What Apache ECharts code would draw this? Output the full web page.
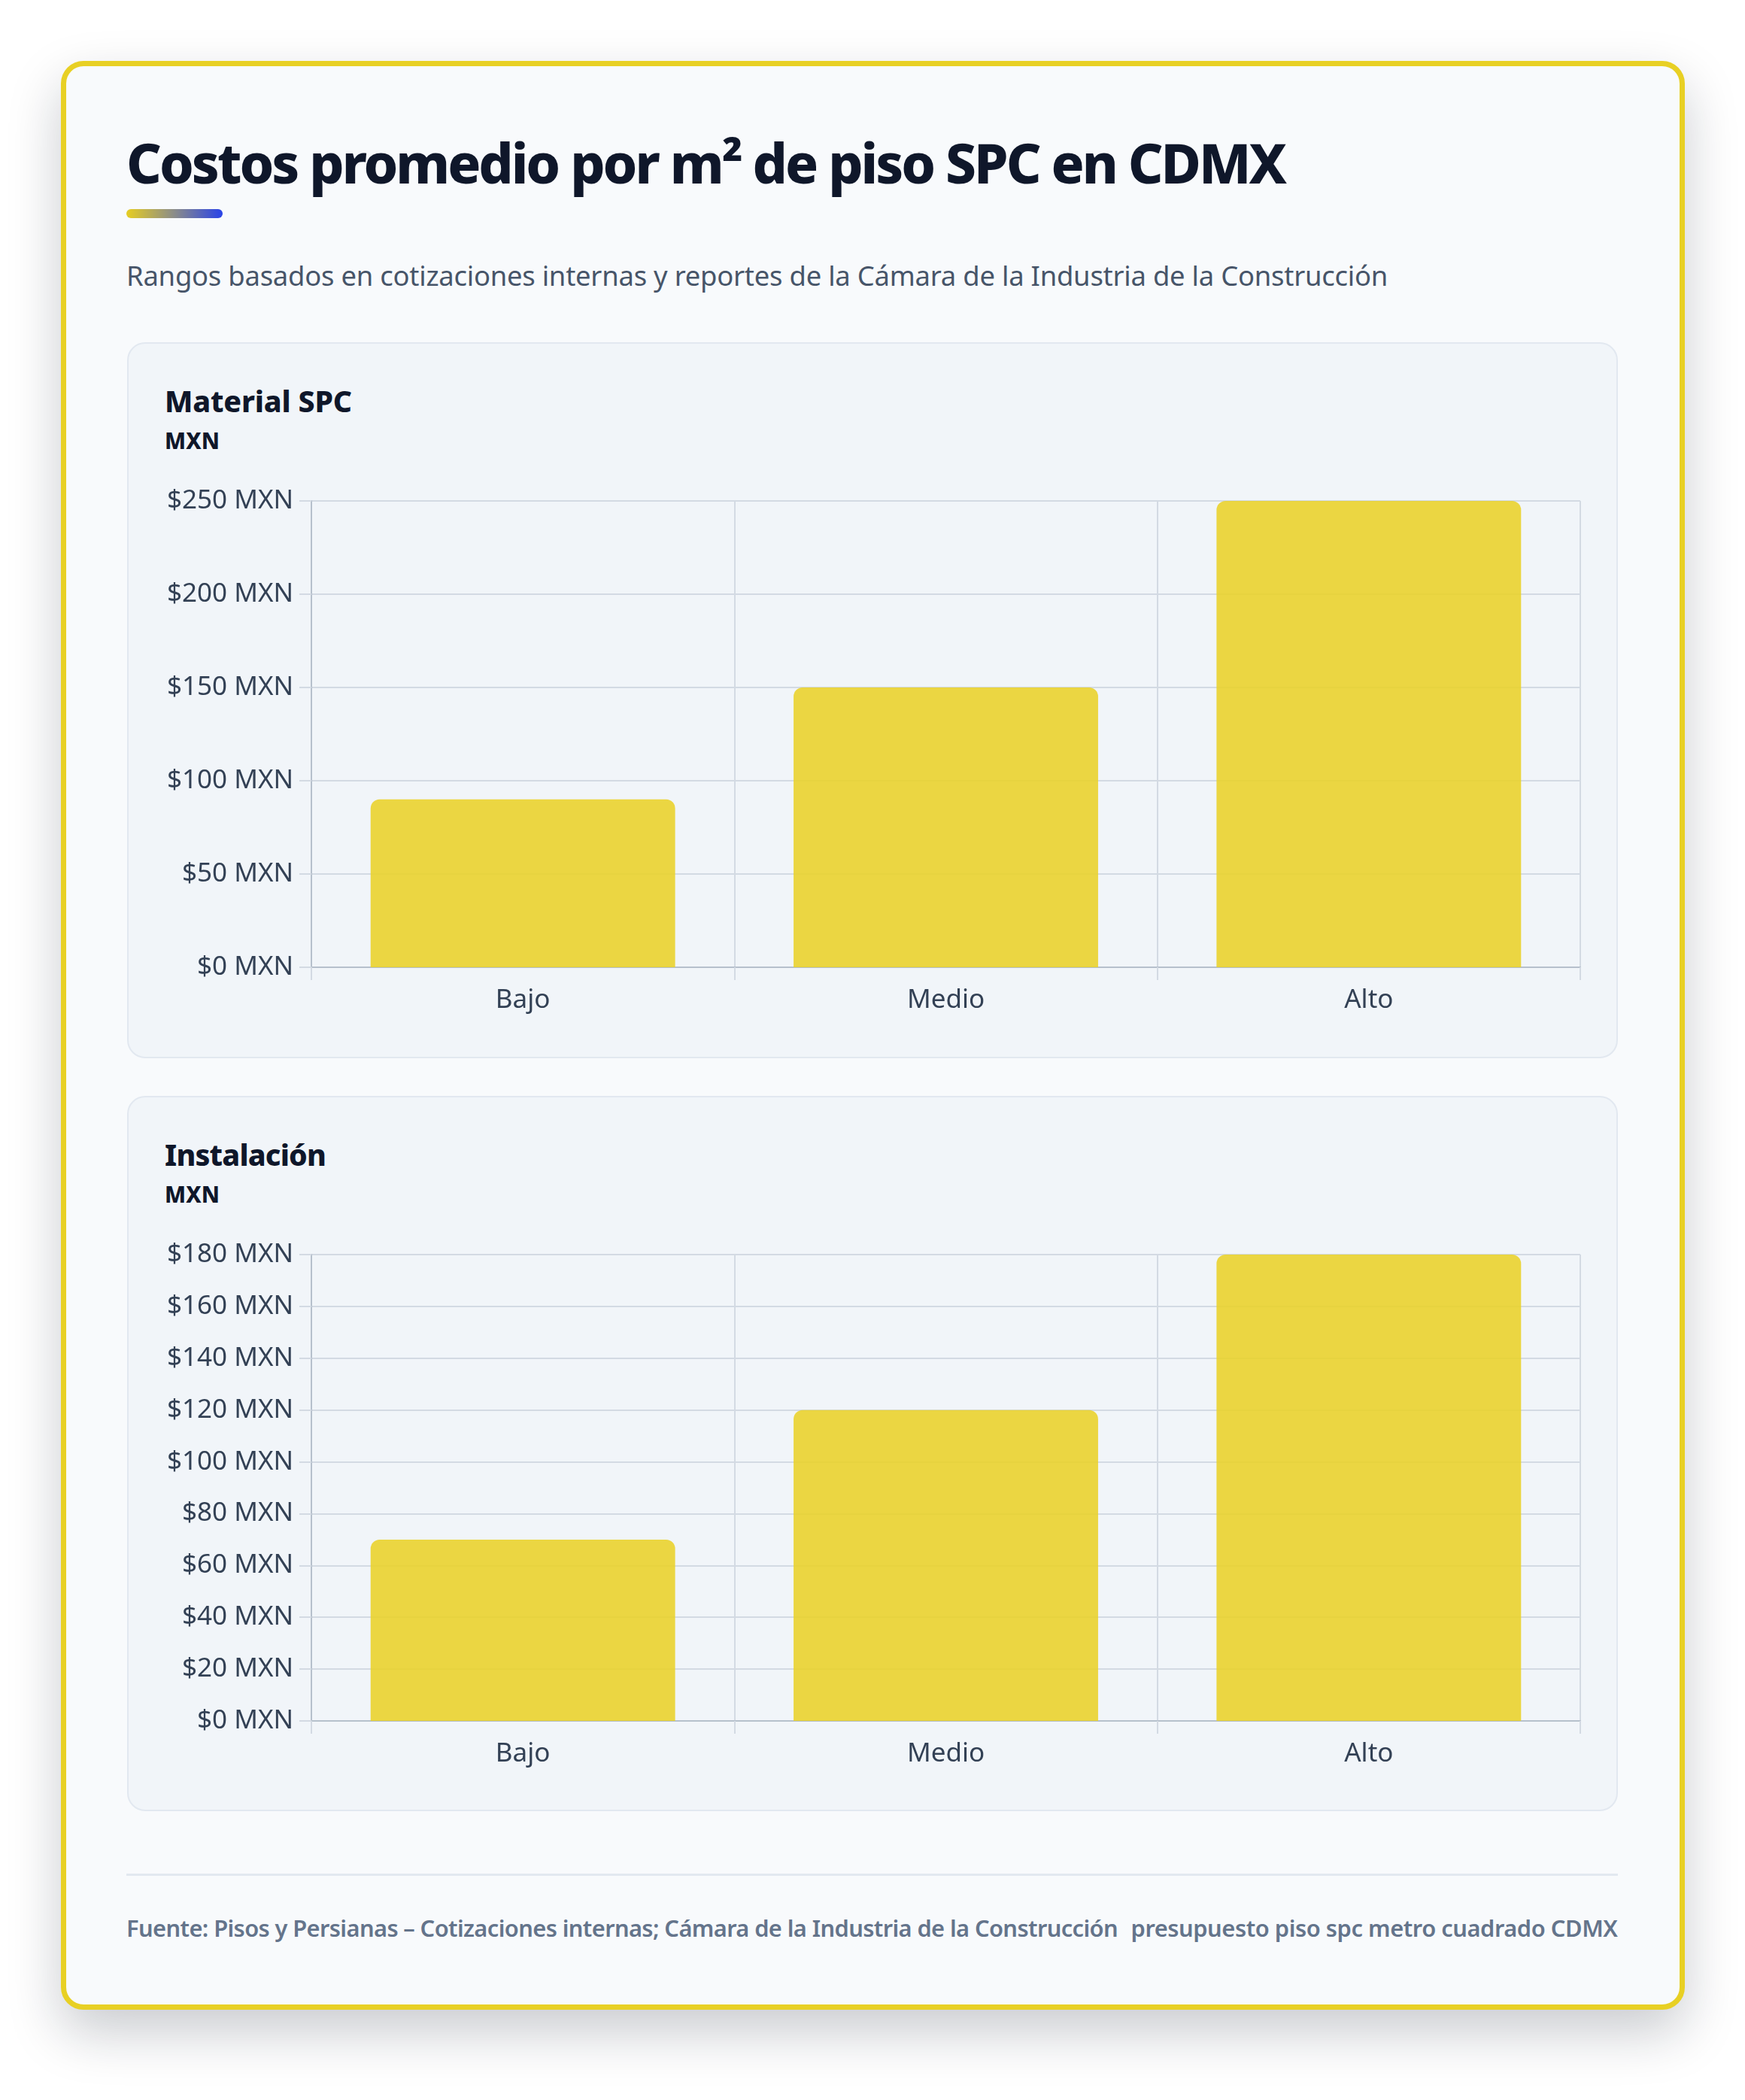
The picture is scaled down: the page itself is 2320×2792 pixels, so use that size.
<!DOCTYPE html>
<html>
<head>
<meta charset="utf-8">
<script src="https://cdn.jsdelivr.net/npm/echarts@6/dist/echarts.min.js"></script>
<style>
  html, body { margin:0; padding:0; background:#ffffff; }
  body { width:2320px; height:2792px; position:relative; overflow:hidden; font-family:"Noto Sans", "Open Sans", sans-serif; }
  #card { position:absolute; left:81px; top:81px; width:2159px; height:2591px; box-sizing:border-box;
          border:7px solid #e8d024; border-radius:30px; background:#f8fafc;
          box-shadow:0 30px 70px rgba(15,23,42,0.22); }
  .panel { position:absolute; left:169px; width:1982px; box-sizing:border-box; background:#f1f5f9;
           border:2px solid #e2e8f0; border-radius:24px; }
  .t { position:absolute; white-space:nowrap; line-height:1; }
  .chart { position:absolute; left:169px; width:1982px; height:952px; }
  #bar { position:absolute; left:168px; top:278px; width:128px; height:12px; border-radius:6px;
         background:linear-gradient(90deg,#e6cd22 0%,#8a8c8a 50%,#2a43e8 100%); }
  #divider { position:absolute; left:168px; top:2491px; width:1983px; height:3px; background:#e2e8f0; }
</style>
</head>
<body>
<div id="card"></div>
<div class="panel" style="top:455px;height:952px;"></div>
<div class="panel" style="top:1457px;height:951px;"></div>
<div id="bar"></div>
<div id="divider"></div>

<div class="t" id="title" data-x="168" data-base="245" data-cap="52" data-w="1540" data-lim="0.07" style="font-weight:800;color:#0f172a;">Costos promedio por m² de piso SPC en CDMX</div>
<div class="t" id="subtitle" data-x="168" data-base="380" data-cap="26" data-w="1677" style="font-weight:400;color:#475569;">Rangos basados en cotizaciones internas y reportes de la Cámara de la Industria de la Construcción</div>
<div class="t" data-x="219" data-base="548" data-cap="28" data-w="249" data-lim="0.06" style="font-weight:800;color:#0f172a;">Material SPC</div>
<div class="t" data-x="219" data-base="598" data-cap="21" data-w="73" style="font-weight:800;color:#0f172a;">MXN</div>
<div class="t" data-x="219" data-base="1550" data-cap="28" data-w="214" data-lim="0.06" style="font-weight:800;color:#0f172a;">Instalación</div>
<div class="t" data-x="219" data-base="1600" data-cap="21" data-w="73" style="font-weight:800;color:#0f172a;">MXN</div>
<div class="t" data-x="168" data-base="2575" data-cap="22" data-w="1318" style="font-weight:600;color:#64748b;">Fuente: Pisos y Persianas – Cotizaciones internas; Cámara de la Industria de la Construcción</div>
<div class="t" data-right="2151" data-base="2575" data-cap="22" data-w="647" style="font-weight:600;color:#64748b;">presupuesto piso spc metro cuadrado CDMX</div>

<div class="chart" id="c1" style="top:455px;"></div>
<div class="chart" id="c2" style="top:1457px;"></div>

<script>
// ---- data ----
const categories = ["Bajo", "Medio", "Alto"];
const materialValues = [90, 150, 250];
const installValues = [70, 120, 180];
const materialTicks = [0, 50, 100, 150, 200, 250];
const installTicks = [0, 20, 40, 60, 80, 100, 120, 140, 160, 180];

// ---- fit HTML text ----
document.querySelectorAll('.t').forEach(el => {
  const cap = +el.dataset.cap, target = +el.dataset.w;
  let f = cap / 0.714;
  el.style.fontSize = f + 'px';
  let w = el.getBoundingClientRect().width;
  const n = el.textContent.length;
  let ls = (target - w) / n;
  const lim = (el.dataset.lim ? +el.dataset.lim : 0.045) * f;
  if (ls < -lim || ls > lim) {
    const lsC = Math.max(-lim, Math.min(lim, ls));
    const rem = target - n * lsC;
    f = f * rem / w;
    el.style.fontSize = f + 'px';
    w = el.getBoundingClientRect().width;
    ls = (target - w) / n;
  }
  el.style.letterSpacing = ls + 'px';
  el.style.top = (+el.dataset.base - 0.888 * f) + 'px';
  if (el.dataset.right) {
    el.style.left = (+el.dataset.right - el.getBoundingClientRect().width + ls) + 'px';
  } else {
    el.style.left = el.dataset.x + 'px';
  }
});

// ---- charts ----
const GRID = '#d3dae3', AXIS = '#b6c0cc', LABEL = '#334155';
function makeOption(values, ticks) {
  return {
    animation: false,
    grid: { left: 245, top: 211, width: 1687, height: 620 },
    xAxis: {
      type: 'category', data: categories, boundaryGap: true,
      axisLine: { show: true, lineStyle: { color: AXIS, width: 2 } },
      axisTick: { show: true, length: 17, alignWithLabel: false, lineStyle: { color: GRID, width: 2 } },
      splitLine: { show: true, lineStyle: { color: GRID, width: 2 } },
      axisLabel: { color: LABEL, fontSize: 35, fontFamily: 'Noto Sans', margin: 27 }
    },
    yAxis: {
      type: 'value', min: ticks[0], max: ticks[ticks.length - 1], interval: ticks[1] - ticks[0],
      axisLine: { show: true, lineStyle: { color: AXIS, width: 2 } },
      axisTick: { show: true, length: 16, lineStyle: { color: GRID, width: 2 } },
      splitLine: { show: true, lineStyle: { color: GRID, width: 2 } },
      axisLabel: { color: LABEL, fontSize: 35, fontFamily: 'Noto Sans', margin: 24,
                   formatter: v => '$' + v + ' MXN' }
    },
    series: [{
      type: 'bar', data: values, barWidth: '72%',
      itemStyle: { color: 'rgba(233,210,40,0.88)', borderRadius: [12, 12, 0, 0] }
    }]
  };
}
echarts.init(document.getElementById('c1'), null, { renderer: 'canvas' }).setOption(makeOption(materialValues, materialTicks));
echarts.init(document.getElementById('c2'), null, { renderer: 'canvas' }).setOption(makeOption(installValues, installTicks));
</script>
</body>
</html>
